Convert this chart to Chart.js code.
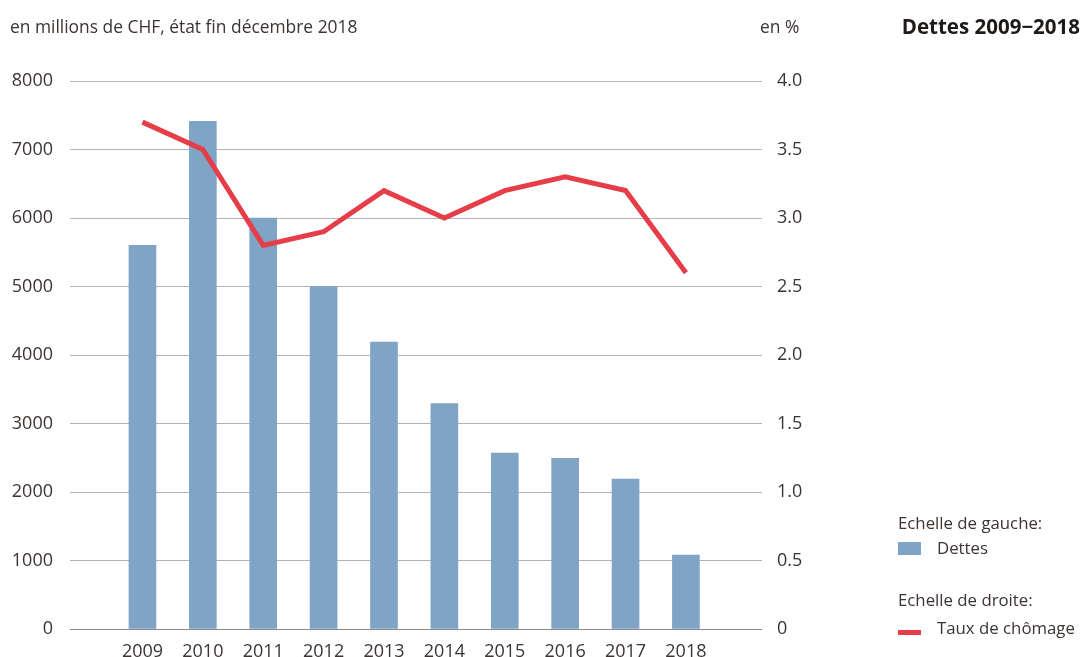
<!DOCTYPE html>
<html>
<head>
<meta charset="utf-8">
<script src="https://cdn.jsdelivr.net/npm/chart.js@4"></script>
<style>
  html, body { margin: 0; padding: 0; background: #fff; }
  body { width: 1082px; height: 657px; position: relative; overflow: hidden;
         font-family: "Open Sans", sans-serif; color: #3b3431; }
  #chart { position: absolute; left: 0; top: 0; }
  .txt { position: absolute; white-space: nowrap; font-size: 16.8px; line-height: 20px; }
  .sub { font-size: 17.4px; }
  .title { font-weight: bold; color: #1e1a18; font-size: 20.5px; }
  .sw { position: absolute; }
</style>
</head>
<body>
<canvas id="chart" width="1082" height="657"></canvas>
<div class="txt sub" style="left:10px; top:16px;">en millions de CHF, état fin décembre 2018</div>
<div class="txt sub" style="left:760px; top:16px;">en %</div>
<div class="txt title" style="right:2px; top:16px;">Dettes 2009−2018</div>

<div class="txt" style="left:898px; top:513px;">Echelle de gauche:</div>
<div class="sw" style="left:898px; top:542px; width:23px; height:13px; background:#80a4c5;"></div>
<div class="txt" style="left:937px; top:538px;">Dettes</div>
<div class="txt" style="left:898px; top:590px;">Echelle de droite:</div>
<div class="sw" style="left:898px; top:630px; width:23px; height:5px; background:#e63e48;"></div>
<div class="txt" style="left:937px; top:618px;">Taux de chômage</div>

<script>
// données
var years = [2009, 2010, 2011, 2012, 2013, 2014, 2015, 2016, 2017, 2018];
var dettes = [5600, 7410, 6000, 5000, 4190, 3290, 2570, 2490, 2190, 1080];
var chomage = [3.7, 3.5, 2.8, 2.9, 3.2, 3.0, 3.2, 3.3, 3.2, 2.6];
var leftTicks = [0, 1000, 2000, 3000, 4000, 5000, 6000, 7000, 8000];
var rightTicks = [0, 0.5, 1.0, 1.5, 2.0, 2.5, 3.0, 3.5, 4.0];

var tickFont = { family: 'Open Sans', size: 18 };
var textColor = '#3b3431';

function pts(values) {
    return values.map(function (v, i) { return { x: years[i], y: v }; });
}

new Chart(document.getElementById('chart').getContext('2d'), {
    type: 'bar',
    data: {
        datasets: [{
            type: 'line',
            label: 'Taux de chômage',
            data: pts(chomage),
            yAxisID: 'y1',
            borderColor: '#e63e48',
            borderWidth: 5,
            pointRadius: 0,
            tension: 0,
            borderJoinStyle: 'miter',
            order: 1
        }, {
            label: 'Dettes',
            data: pts(dettes),
            yAxisID: 'y',
            backgroundColor: '#80a4c5',
            barThickness: 27,
            order: 2
        }]
    },
    options: {
        responsive: false,
        animation: false,
        layout: { padding: { top: 81, right: 270, bottom: 0, left: 0 } },
        plugins: { legend: { display: false }, tooltip: { enabled: false } },
        scales: {
            x: {
                type: 'linear',
                offset: false,
                min: 2007.8,
                max: 2019.26,
                afterBuildTicks: function (axis) {
                    axis.ticks = years.map(function (v) { return { value: v }; });
                },
                afterFit: function (axis) { axis.height = 28; },
                grid: { display: false },
                border: { display: false },
                ticks: {
                    color: textColor, font: tickFont, padding: 4, maxRotation: 0,
                    callback: function (v) { return String(v); }
                }
            },
            y: {
                position: 'left',
                min: 0,
                max: 8000,
                afterBuildTicks: function (axis) {
                    axis.ticks = leftTicks.map(function (v) { return { value: v }; });
                },
                afterFit: function (axis) { axis.width = 70; },
                border: { display: false },
                grid: {
                    drawTicks: false,
                    color: function (ctx) { return ctx.tick && ctx.tick.value === 0 ? '#8c8a88' : '#b5b3b1'; },
                    lineWidth: 1
                },
                ticks: {
                    color: textColor, font: tickFont, padding: 17,
                    callback: function (v) { return String(v); }
                }
            },
            y1: {
                position: 'right',
                min: 0,
                max: 4,
                afterBuildTicks: function (axis) {
                    axis.ticks = rightTicks.map(function (v) { return { value: v }; });
                },
                afterFit: function (axis) { axis.width = 50; },
                border: { display: false },
                grid: { drawOnChartArea: false, drawTicks: false },
                ticks: {
                    color: textColor, font: tickFont, padding: 15,
                    callback: function (v) { return v === 0 ? '0' : v.toFixed(1); }
                }
            }
        }
    }
});
</script>
</body>
</html>
